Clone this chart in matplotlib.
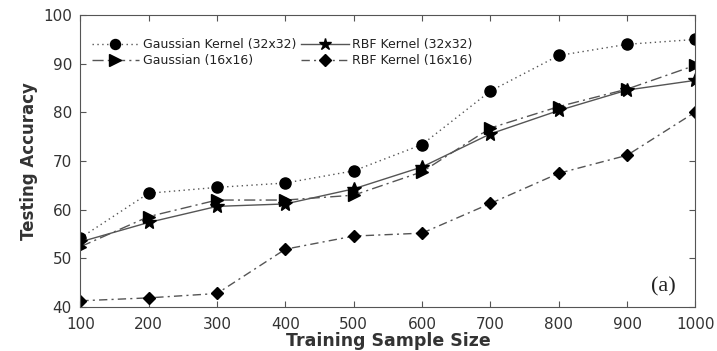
import numpy as np
import matplotlib.pyplot as plt

plt.rcParams['font.family'] = ['DejaVu Sans']

sizes = [100, 200, 300, 400, 500, 600, 700, 800, 900, 1000]
gauss32 = [54.2, 63.4, 64.6, 65.5, 68.0, 73.4, 84.4, 91.7, 94.0, 95.0]
rbf32 = [53.4, 57.4, 60.7, 61.2, 64.3, 68.8, 75.6, 80.4, 84.6, 86.6]
gauss16 = [52.4, 58.6, 62.0, 62.0, 63.0, 67.8, 76.8, 81.2, 84.8, 89.7]
rbf16 = [41.3, 41.9, 42.8, 51.9, 54.6, 55.2, 61.3, 67.5, 71.2, 80.1]

fig = plt.figure(figsize=(7.17, 3.51), dpi=100)
ax = fig.add_axes([0.112, 0.125, 0.858, 0.832])

lc = '#555555'
h1, = ax.plot(sizes, gauss32, linestyle=(0, (1, 2.5)), color=lc, lw=1.0,
              marker='o', ms=8, mfc='black', mec='black', label='Gaussian Kernel (32x32)')
h3, = ax.plot(sizes, rbf32, linestyle='-', color=lc, lw=1.0,
              marker='*', ms=10, mfc='black', mec='black', label='RBF Kernel (32x32)')
h2, = ax.plot(sizes, gauss16, linestyle=(0, (8, 3, 1.5, 3)), color=lc, lw=1.0,
              marker='>', ms=9, mfc='black', mec='black', label='Gaussian (16x16)')
h4, = ax.plot(sizes, rbf16, linestyle=(0, (6, 3, 1.5, 3)), color=lc, lw=1.0,
              marker='D', ms=6.5, mfc='black', mec='black', label='RBF Kernel (16x16)')

ax.set_xlim(100, 1000)
ax.set_ylim(40, 100)
ax.set_xticks(sizes)
ax.set_yticks([40, 50, 60, 70, 80, 90, 100])
ax.tick_params(direction='in', top=True, right=True, length=4, color='#555555',
               labelsize=11, labelcolor='#333333')
ax.tick_params(axis='x', pad=7)
ax.tick_params(axis='y', pad=6)
for s in ax.spines.values():
    s.set_color('#555555')

ax.set_xlabel('Training Sample Size', fontsize=12.5, fontweight='bold', color='#333333', labelpad=0)
ax.set_ylabel('Testing Accuracy', fontsize=12, fontweight='bold', color='#333333', labelpad=4)

ax.legend(handles=[h1, h2, h3, h4], ncol=2, loc='upper left', frameon=False,
          fontsize=9, handlelength=3.8, handletextpad=0.3, columnspacing=0.4,
          labelspacing=0.25, bbox_to_anchor=(0.0, 0.96), labelcolor='#222222',
          markerscale=0.9)

ax.text(0.968, 0.035, '(a)', transform=ax.transAxes, ha='right', va='bottom',
        fontsize=16, family='Liberation Serif', color='#222222')

fig.savefig('out.png', dpi=100)
